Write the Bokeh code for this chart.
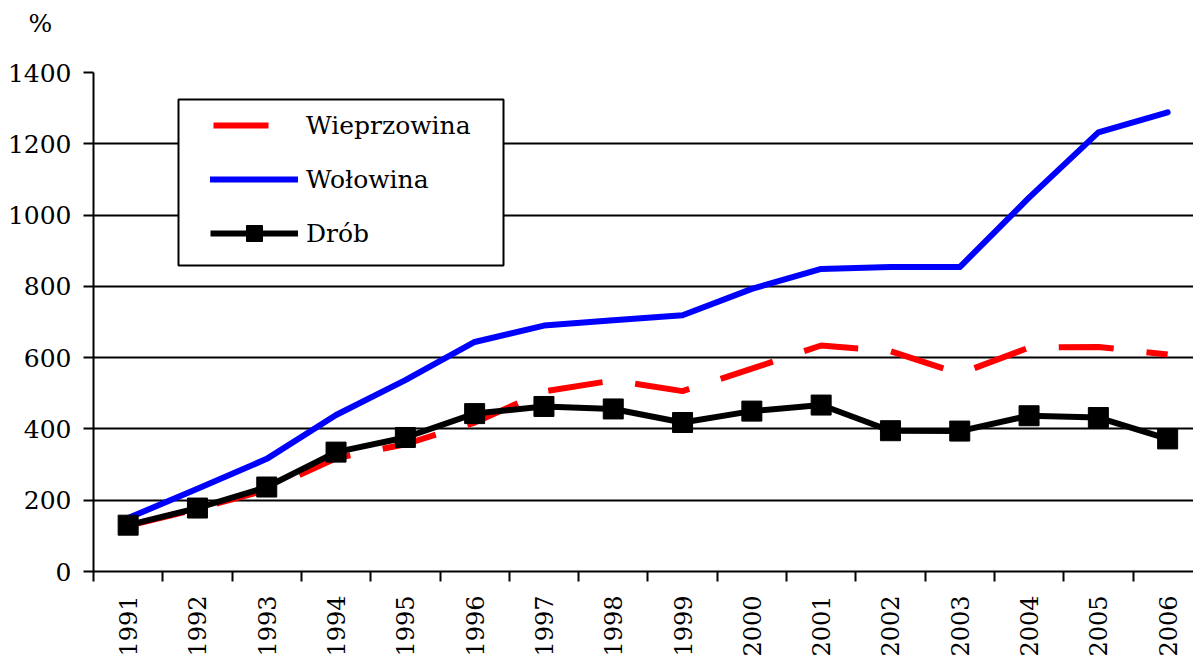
import math
from bokeh.plotting import figure
from bokeh.models import (Range1d, FixedTicker, NumeralTickFormatter, Legend, LegendItem,
                          BoxAnnotation)
from bokeh.embed import file_html
from bokeh.resources import INLINE

# ---- data ----
years = [1991, 1992, 1993, 1994, 1995, 1996, 1997, 1998,
         1999, 2000, 2001, 2002, 2003, 2004, 2005, 2006]
wieprzowina = [128, 176, 229, 318, 357, 418, 505, 536, 506, 569, 634, 618, 555, 628, 630, 609]
wolowina = [150, 232, 316, 439, 537, 644, 690, 705, 719, 793, 849, 854, 854, 1049, 1232, 1288]
drob = [130, 178, 237, 335, 376, 443, 463, 456, 418, 450, 467, 395, 394, 437, 432, 372]
y_ticks = [0, 200, 400, 600, 800, 1000, 1200, 1400]
series_names = ["Wieprzowina", "Wołowina", "Drób"]
unit_label = "%"

FONT = "DejaVu Serif"

p = figure(width=1193, height=659, output_backend="svg", toolbar_location=None,
           x_range=Range1d(years[0] - 0.5, years[0] - 0.5 + 1100 / 69.3),
           y_range=Range1d(y_ticks[0], y_ticks[-1]),
           min_border_left=93, min_border_right=0, min_border_top=72, min_border_bottom=85)
p.outline_line_color = None
p.background_fill_color = "white"
p.border_fill_color = "white"

# unit label above the y axis
p.title.text = unit_label + "\n "
p.title.align = "left"
p.title.offset = -65
p.title.standoff = 8
p.title.vertical_align = "top"
p.title.text_font = FONT
p.title.text_font_size = "25px"
p.title.text_font_style = "normal"
p.title.text_color = "black"

# grid
p.xgrid.visible = False
p.ygrid.ticker = FixedTicker(ticks=y_ticks)
p.ygrid.grid_line_color = "black"
p.ygrid.grid_line_width = 2

# y axis
yax = p.yaxis[0]
yax.ticker = FixedTicker(ticks=y_ticks)
yax.axis_line_width = 2
yax.axis_line_color = "black"
yax.major_tick_out = 10
yax.major_tick_in = 0
yax.major_tick_line_width = 2
yax.major_tick_line_color = "black"
yax.minor_tick_out = 0
yax.minor_tick_in = 0
yax.major_label_standoff = 12
yax.major_label_text_font = FONT
yax.major_label_text_font_size = "25px"
yax.major_label_text_color = "black"

# x axis
bounds = [y - 0.5 for y in years] + [years[-1] + 0.5]
xax = p.xaxis[0]
xax.ticker = FixedTicker(ticks=years, minor_ticks=bounds)
xax.formatter = NumeralTickFormatter(format="0")
xax.axis_line_width = 2
xax.axis_line_color = "black"
xax.major_tick_out = 0
xax.major_tick_in = 0
xax.minor_tick_out = 10
xax.minor_tick_in = 0
xax.minor_tick_line_width = 2
xax.minor_tick_line_color = "black"
xax.major_label_orientation = math.pi / 2
xax.major_label_standoff = 14
xax.major_label_text_font = FONT
xax.major_label_text_font_size = "24px"
xax.major_label_text_color = "black"

# series
r_red = p.line(years, wieprzowina, line_color="#FF0000", line_width=6,
               line_dash="55 33", line_dash_offset=-3)
r_blue = p.line(years, wolowina, line_color="#0000FF", line_width=6,
                line_join="round", line_cap="round")
r_black = p.line(years, drob, line_color="black", line_width=6, line_join="round")
r_sq = p.scatter(years, drob, marker="square", size=20, fill_color="black", line_color="black")

# legend box
box = BoxAnnotation(left=85, right=410, bottom=306, top=472,
                    left_units="screen", right_units="screen",
                    bottom_units="screen", top_units="screen",
                    fill_color="white", fill_alpha=1.0,
                    line_color="black", line_alpha=1.0, line_width=2, level="underlay")
p.add_layout(box)

legend = Legend(items=[LegendItem(label=series_names[0], renderers=[r_red]),
                       LegendItem(label=series_names[1], renderers=[r_blue]),
                       LegendItem(label=series_names[2], renderers=[r_black, r_sq])],
                location=(117, 318), padding=0, spacing=14, margin=0,
                glyph_width=88, glyph_height=40, label_height=40, label_standoff=8,
                label_text_font=FONT, label_text_font_size="25px",
                label_text_color="black",
                background_fill_alpha=0, border_line_alpha=0)
p.add_layout(legend, "center")

open("out.html", "w").write(file_html(p, INLINE))
